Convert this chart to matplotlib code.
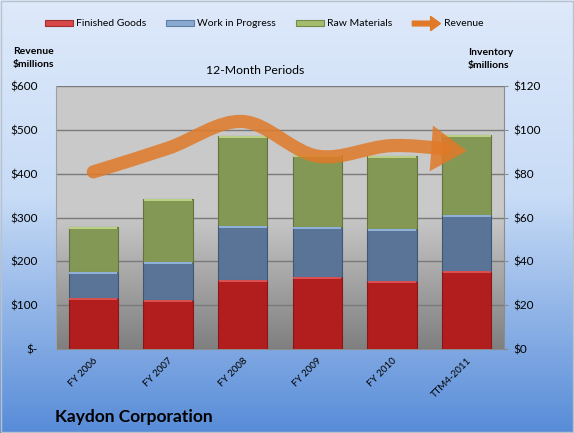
import numpy as np
import matplotlib
matplotlib.use("Agg")
import matplotlib.pyplot as plt
import matplotlib.patches as mpatches
import matplotlib.transforms as mtrans
from matplotlib.path import Path
from matplotlib.legend_handler import HandlerPatch

plt.rcParams['font.family'] = ['Lato', 'DejaVu Sans']

# data
periods = ['FY 2006', 'FY 2007', 'FY 2008', 'FY 2009', 'FY 2010', 'TTM4-2011']
finished_goods = [23.1, 22.2, 31.5, 32.7, 31.0, 35.6]
work_in_progress = [11.9, 17.6, 24.6, 22.8, 23.6, 25.5]
raw_materials = [20.5, 28.5, 41.2, 33.0, 33.5, 36.7]
revenue = [404, 458, 519, 440, 464, 452]

rev_ticks = [0, 100, 200, 300, 400, 500, 600]
rev_labels = ['$-', '$100', '$200', '$300', '$400', '$500', '$600']
inv_ticks = [0, 20, 40, 60, 80, 100, 120]
inv_labels = ['$0', '$20', '$40', '$60', '$80', '$100', '$120']

red = '#b21d1e'
blue = '#5a7497'
green = '#849855'
orange = '#e07a28'

W, H = 574, 433
fig = plt.figure(figsize=(W / 100, H / 100), dpi=100)

# figure background: light blue fading to deeper blue at the bottom
bg = fig.add_axes([0, 0, 1, 1], zorder=-10)
t = np.linspace(0, 1, 300)  # 0 = top
top_c = np.array([222, 233, 250]) / 255
mid_c = np.array([200, 220, 246]) / 255
bot_c = np.array([88, 140, 216]) / 255
cols = np.zeros((300, 3))
for i, v in enumerate(t):
    if v < 0.45:
        cols[i] = top_c + (mid_c - top_c) * v / 0.45
    else:
        cols[i] = mid_c + (bot_c - mid_c) * (v - 0.45) / 0.55
bg.imshow(cols[:, None, :], aspect='auto', extent=[0, 1, 0, 1])
bg.add_patch(mpatches.Rectangle((0.002, 0.002), 0.996, 0.995, fill=False,
                                edgecolor='#b8c2cc', lw=1, transform=bg.transAxes))
bg.set_axis_off()

# bars axis (inventory, right scale) sits below the revenue axis
ax = fig.add_axes([56 / W, 1 - 349 / H, 448 / W, 263 / H])
ax2 = ax.twinx()

# plot area gradient: flat light gray then darker toward the bottom
g = np.linspace(0, 1, 200)  # 0 = top
shade = np.where(g < 0.48, 0.79, 0.79 - (0.79 - 0.50) * (g - 0.48) / 0.52)
ax.imshow(np.repeat(shade[:, None], 3, axis=1)[:, None, :],
          aspect='auto', extent=[0, 1, 0, 1], transform=ax.transAxes, zorder=0)

x = np.arange(len(periods))
bw = 0.66
fg = np.array(finished_goods)
wip = np.array(work_in_progress)
rm = np.array(raw_materials)
ax.bar(x, fg, bw, color=red, edgecolor='#8a1616', lw=0.8, zorder=3)
ax.bar(x, wip, bw, bottom=fg, color=blue, edgecolor='#3f5775', lw=0.8, zorder=3)
ax.bar(x, rm, bw, bottom=fg + wip, color=green, edgecolor='#63733c', lw=0.8, zorder=3)
# light top edge highlight on each segment
for bottoms, h, hc in [(0, fg, '#d85050'), (fg, wip, '#8fb0d8'), (fg + wip, rm, '#b8cf84')]:
    ax.bar(x, np.full(len(x), 0.9), bw * 0.97, bottom=np.asarray(bottoms) + h - 0.9,
           color=hc, lw=0, zorder=4)

ax.set_xlim(-0.5, len(periods) - 0.5)
ax.set_ylim(0, 120)
ax.set_yticks(inv_ticks)
ax.set_yticklabels(inv_labels)
ax.yaxis.tick_right()
ax.grid(axis='y', color='#7a7a7a', lw=1, zorder=1)
ax.set_axisbelow(True)
ax.set_xticks(x)
ax.set_xticklabels(periods, rotation=45, ha='right', rotation_mode='anchor', fontsize=7)
shift = mtrans.ScaledTranslation(-4 / 72, 0, fig.dpi_scale_trans)
for lab in ax.get_xticklabels():
    lab.set_transform(lab.get_transform() + shift)
ax.tick_params(axis='x', length=0, pad=5)
ax.tick_params(axis='y', length=3, color='#8c8c8c', labelsize=8.5, pad=4)
for s in ['top', 'left']:
    ax.spines[s].set_visible(False)
ax.spines['right'].set_color('#8c8c8c')
ax.spines['bottom'].set_color('#8c8c8c')

# revenue axis (left scale)
ax2.patch.set_visible(False)
ax2.set_ylim(0, 600)
ax2.set_yticks(rev_ticks)
ax2.set_yticklabels(rev_labels)
ax2.yaxis.tick_left()
ax2.tick_params(axis='y', length=0, labelsize=8.5, pad=13)
for s in ['top', 'right', 'bottom']:
    ax2.spines[s].set_visible(False)
ax2.spines['left'].set_color('#a0a0a0')

# smoothed revenue arrow (Catmull-Rom converted to cubic Bezier)
pts = np.column_stack([x, revenue]).astype(float)
ext = np.vstack([pts[0] - (pts[1] - pts[0]), pts, pts[-1] + (pts[-1] - pts[-2])])
segs = []
for i in range(1, len(ext) - 2):
    p0, p1, p2, p3 = ext[i - 1], ext[i], ext[i + 1], ext[i + 2]
    segs.append([p1, p1 + (p2 - p0) / 6, p2 - (p3 - p1) / 6, p2])

# cut the last segment so the stroke stops inside the arrow head
a, b, c, d = segs[-1]
tt = 0.7
ab, bc, cd = a + (b - a) * tt, b + (c - b) * tt, c + (d - c) * tt
abc, bcd = ab + (bc - ab) * tt, bc + (cd - bc) * tt
mid = abc + (bcd - abc) * tt
segs[-1] = [a, ab, abc, mid]

verts = [tuple(segs[0][0])]
codes = [Path.MOVETO]
for s in segs:
    verts += [tuple(s[1]), tuple(s[2]), tuple(s[3])]
    codes += [Path.CURVE4] * 3
body = mpatches.PathPatch(Path(verts, codes), fill=False, edgecolor=orange, lw=9.5,
                          alpha=0.85, capstyle='round', joinstyle='round', zorder=5)
ax2.add_patch(body)
ax2.annotate('', xy=tuple(pts[-1]), xytext=tuple(c),
             arrowprops=dict(arrowstyle='-|>,head_length=0.85,head_width=0.55',
                             mutation_scale=30, color=orange, lw=0, alpha=0.85,
                             shrinkA=0, shrinkB=0),
             zorder=5)

# texts
fig.text(13 / W, 1 - 58 / H, 'Revenue\n$millions', fontsize=7.5, fontweight='bold',
         ha='left', va='center', linespacing=1.45)
fig.text(468 / W, 1 - 59 / H, 'Inventory\n$millions', fontsize=7.5, fontweight='bold',
         ha='left', va='center', linespacing=1.45)
fig.text(255 / W, 1 - 70 / H, '12-Month Periods', fontsize=8.8, ha='center', va='center')
fig.text(55 / W, 1 - 417 / H, 'Kaydon Corporation', fontsize=12.5, fontweight='bold',
         ha='left', va='center')


def make_arrow(legend, orig_handle, xdescent, ydescent, width, height, fontsize):
    return mpatches.FancyArrow(0, height / 2, width, 0, width=height * 0.8,
                               head_width=height * 2.4, head_length=width * 0.35,
                               length_includes_head=True, color=orange, lw=0)


handles = [mpatches.Patch(facecolor='#d84848', edgecolor='#a03030', lw=0.8),
           mpatches.Patch(facecolor='#8aa9d0', edgecolor='#5f7ea4', lw=0.8),
           mpatches.Patch(facecolor='#a4bc6c', edgecolor='#748a48', lw=0.8),
           mpatches.Patch(color=orange)]
names = ['Finished Goods', 'Work in Progress', 'Raw Materials', 'Revenue']
fig.legend(handles, names, loc='center', bbox_to_anchor=(264 / W, 1 - 24 / H), ncol=4,
           frameon=False, fontsize=7.5, handlelength=2.7, handleheight=0.5,
           handletextpad=0.3, columnspacing=1.9,
           handler_map={handles[3]: HandlerPatch(patch_func=make_arrow)})

fig.savefig('out.png', dpi=100)
